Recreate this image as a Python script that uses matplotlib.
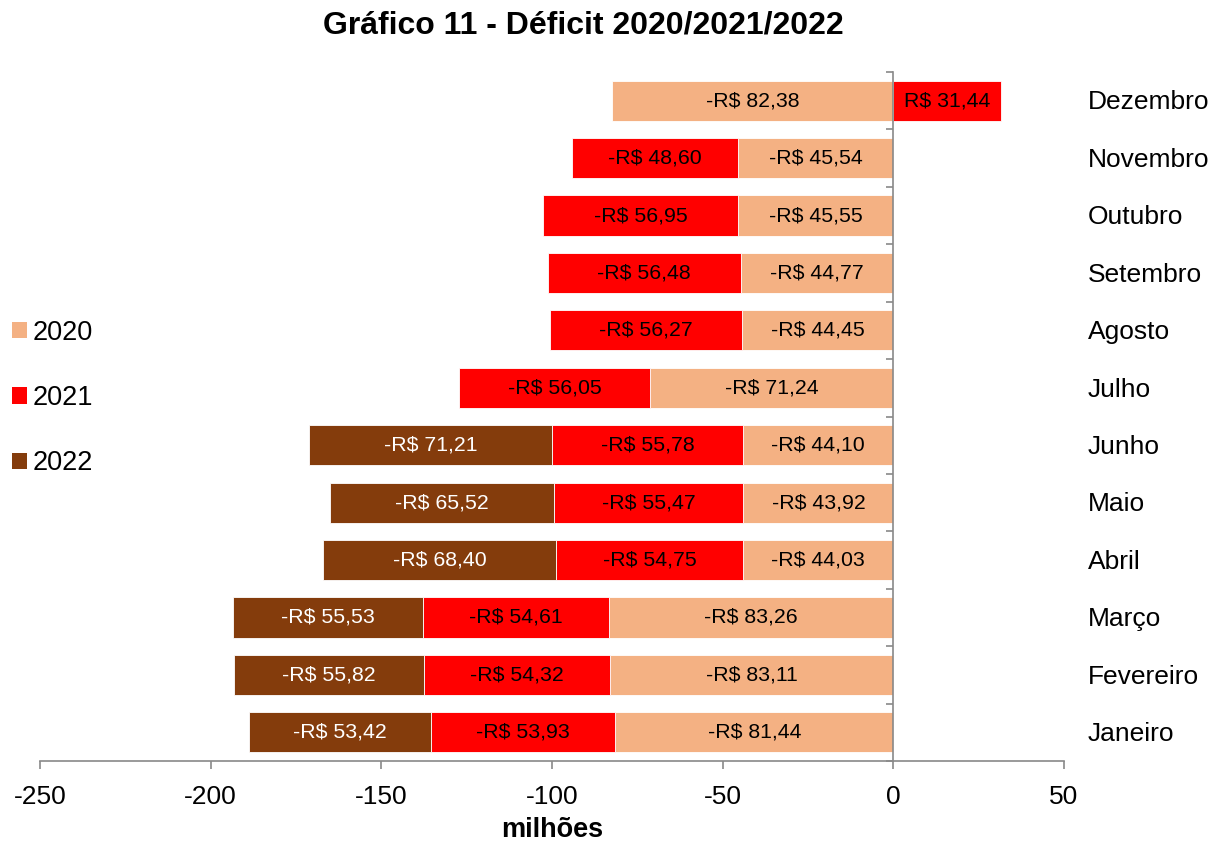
import matplotlib
matplotlib.use("Agg")
import matplotlib.pyplot as plt
from matplotlib.patches import Patch
import numpy as np

plt.rcParams['font.family'] = ['Liberation Sans', 'DejaVu Sans']

months = ["Janeiro", "Fevereiro", "Março", "Abril", "Maio", "Junho", "Julho",
          "Agosto", "Setembro", "Outubro", "Novembro", "Dezembro"]
v2020 = [-81.44, -83.11, -83.26, -44.03, -43.92, -44.10, -71.24, -44.45, -44.77, -45.55, -45.54, -82.38]
v2021 = [-53.93, -54.32, -54.61, -54.75, -55.47, -55.78, -56.05, -56.27, -56.48, -56.95, -48.60, 31.44]
v2022 = [-53.42, -55.82, -55.53, -68.40, -65.52, -71.21, None, None, None, None, None, None]
series = [("2020", v2020, "#F4B183", "black"),
          ("2021", v2021, "#FF0000", "black"),
          ("2022", v2022, "#843C0C", "white")]
xticks = [-250, -200, -150, -100, -50, 0, 50]

def fmt(v):
    s = f"{abs(v):.2f}".replace(".", ",")
    return ("-R$ " if v < 0 else "R$ ") + s

W, H = 1224, 843
fig = plt.figure(figsize=(W / 100, H / 100), dpi=100)
ax = fig.add_axes([40 / W, 1 - 761 / H, 1024 / W, (761 - 72) / H])

y = np.arange(len(months))
neg_base = np.zeros(len(months))
pos_base = np.zeros(len(months))
handles = []
for name, vals, color, tcol in series:
    for i, v in enumerate(vals):
        if v is None:
            continue
        if v < 0:
            left = neg_base[i]
            neg_base[i] += v
        else:
            left = pos_base[i]
            pos_base[i] += v
        ax.barh(y[i], v, left=left, height=0.7, color=color, edgecolor="white", linewidth=0.6, zorder=2)
        ax.text(left + v / 2, y[i], fmt(v), ha="center", va="center", fontsize=15.3, color=tcol, zorder=3)
    handles.append(Patch(facecolor=color, edgecolor="none", label=name))

ax.set_xlim(-250, 50)
ax.set_ylim(-0.5, len(months) - 0.5)
ax.set_xticks(xticks)
ax.set_xticklabels([str(t) for t in xticks], fontsize=19)
ax.tick_params(axis="x", direction="out", length=6, width=1.2, color="#898989", pad=11)

for s in ["top", "right"]:
    ax.spines[s].set_visible(False)
ax.spines["left"].set_position(("data", 0))
for s in ["left", "bottom"]:
    ax.spines[s].set_color("#898989")
    ax.spines[s].set_linewidth(1.2)

ax.set_yticks(np.arange(-0.5, len(months), 1.0))
ax.set_yticklabels([])
ax.tick_params(axis="y", direction="out", length=5, width=1.2, color="#898989")

for i, m in enumerate(months):
    ax.text(1.0 + 24 / 1024, y[i] - 0.03, m, transform=ax.get_yaxis_transform(),
            ha="left", va="center", fontsize=19)

ax.set_xlabel("milhões", fontsize=19.5, fontweight="bold", labelpad=6)

fig.text(583 / W, 1 - 26 / H, "Gráfico 11 - Déficit 2020/2021/2022", ha="center", va="center",
         fontsize=23, fontweight="bold")

fig.legend(handles=handles, loc="center left", bbox_to_anchor=(12 / W, 1 - 398 / H), frameon=False,
           fontsize=19.5, handlelength=0.55, handleheight=0.55, handletextpad=0.2,
           labelspacing=1.45, borderpad=0, borderaxespad=0)

fig.savefig("out.png", dpi=100)
